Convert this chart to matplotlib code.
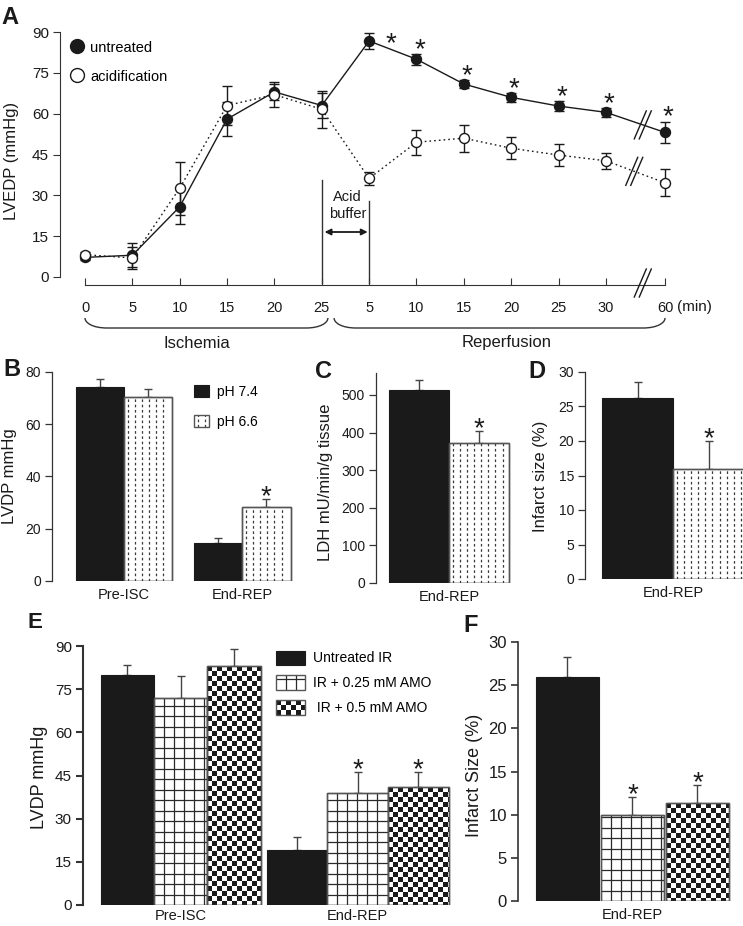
import numpy as np
import matplotlib
matplotlib.use('Agg')
import matplotlib.pyplot as plt
from matplotlib.patches import Rectangle, PathPatch
from matplotlib.lines import Line2D
from matplotlib.path import Path
from matplotlib.legend_handler import HandlerBase
from matplotlib.collections import LineCollection, PatchCollection
from matplotlib.transforms import IdentityTransform

plt.rcParams['font.family'] = ['Liberation Sans', 'DejaVu Sans']
plt.rcParams['lines.scale_dashes'] = False

# ---------------- data ----------------
time_labels = ['0', '5', '10', '15', '20', '25', '5', '10', '15', '20', '25', '30', '60']
time_pos = [0, 1, 2, 3, 4, 5, 6, 7, 8, 9, 10, 11, 12.25]
untreated_mean = [7.2, 8.0, 25.8, 58.0, 68.0, 63.0, 86.7, 80.0, 70.9, 66.0, 62.8, 60.5, 53.1]
untreated_err = [1.0, 4.5, 6.4, 6.2, 3.0, 4.6, 3.0, 2.0, 1.5, 1.6, 1.8, 1.6, 4.0]
acid_mean = [8.2, 7.0, 32.6, 63.0, 67.0, 61.6, 36.2, 49.5, 51.0, 47.3, 44.8, 42.7, 34.6]
acid_err = [1.0, 4.0, 9.8, 7.0, 4.5, 6.8, 2.5, 4.5, 5.0, 4.0, 4.0, 3.0, 5.0]
sig_A = [False] * 6 + [True] * 7

B_groups = ['Pre-ISC', 'End-REP']
ph_series = ['pH 7.4', 'pH 6.6']
B_ph74 = [74.1, 14.7]
B_ph74_err = [3.1, 1.7]
B_ph66 = [70.6, 28.2]
B_ph66_err = [2.8, 3.3]
B_sig66 = [False, True]

C_groups = ['End-REP']
C_ph74 = [513.0]
C_ph74_err = [27.0]
C_ph66 = [372.0]
C_ph66_err = [33.0]
C_sig66 = [True]

D_groups = ['End-REP']
D_ph74 = [26.2]
D_ph74_err = [2.4]
D_ph66 = [16.0]
D_ph66_err = [4.0]
D_sig66 = [True]

E_groups = ['Pre-ISC', 'End-REP']
amo_series = ['Untreated IR', 'IR + 0.25 mM AMO', ' IR + 0.5 mM AMO']
E_untreated = [80.0, 19.1]
E_untreated_err = [3.5, 4.6]
E_amo025 = [72.1, 38.8]
E_amo025_err = [7.5, 7.5]
E_amo05 = [83.1, 41.1]
E_amo05_err = [5.8, 5.2]
E_sig025 = [False, True]
E_sig05 = [False, True]

F_group = ['End-REP']
F_values = [26.0, 10.0, 11.4]
F_err = [2.3, 2.0, 2.0]
F_sig = [False, True, True]

# ---------------- helpers ----------------
W, H, DPI = 743, 926, 100
DARK = '#1a1a1a'
GREY = '#555555'
STAR_SIZE = 20
fig = plt.figure(figsize=(W / DPI, H / DPI), dpi=DPI)


def rect(l, t, r, b):
    return [l / W, 1 - b / H, (r - l) / W, (b - t) / H]


def pattern_artists(style, x0, y0, w, h, k, trans, z):
    arts = []
    if style == 'dash':
        sp = 7.1 * k
        xs = np.arange(x0 + 0.55 * sp, x0 + w - 0.3 * sp, sp)
        segs = [[(x, y0), (x, y0 + h)] for x in xs]
        arts.append(LineCollection(segs, colors='#3a3a3a', linewidths=0.9,
                                   linestyles=[(0, (1.9, 1.9))], transform=trans, zorder=z))
    elif style == 'grid':
        spx, spy = 10.0 * k, 10.5 * k
        xs = np.arange(x0 + spx, x0 + w - 0.2 * spx, spx)
        ys = np.arange(y0 + spy, y0 + h - 0.2 * spy, spy)
        segs = [[(x, y0), (x, y0 + h)] for x in xs] + [[(x0, y), (x0 + w, y)] for y in ys]
        arts.append(LineCollection(segs, colors='#2a2a2a', linewidths=0.9, transform=trans, zorder=z))
    elif style == 'checker':
        s = 5.0 * k
        nx = int(np.ceil(w / s))
        ny = int(np.ceil(h / s))
        ytop = y0 + h
        rects = []
        for j in range(ny):
            for i in range(nx):
                if (i + j) % 2 == 0:
                    rx = x0 + i * s
                    ry0 = max(ytop - (j + 1) * s, y0)
                    rw = min(s, x0 + w - rx)
                    rh = ytop - j * s - ry0
                    if rw > 0 and rh > 0:
                        rects.append(Rectangle((rx, ry0), rw, rh))
        arts.append(PatchCollection(rects, facecolor=DARK, edgecolor='none', transform=trans, zorder=z))
    return arts


def draw_bars(ax, x, vals, width, style):
    if style == 'solid':
        bars = ax.bar(x, vals, width=width, color=DARK, edgecolor=DARK, lw=0.8, zorder=2)
        return bars
    bars = ax.bar(x, vals, width=width, color='white', edgecolor=GREY, lw=1.0, zorder=2)
    for b in bars:
        (xa, ya), (xb, yb) = ax.transData.transform(
            [(b.get_x(), b.get_y()), (b.get_x() + b.get_width(), b.get_y() + b.get_height())])
        for a in pattern_artists(style, xa, ya, xb - xa, yb - ya, 1.0, IdentityTransform(), 2.5):
            a.set_clip_path(b)
            ax.add_collection(a, autolim=False)
        ax.add_patch(Rectangle(b.get_xy(), b.get_width(), b.get_height(), fill=False,
                               edgecolor=GREY, lw=1.0, zorder=3))
    return bars


def draw_err(ax, x, vals, errs, sig):
    ax.errorbar(x, vals, yerr=[np.zeros(len(vals)), errs], fmt='none', ecolor='#444444',
                elinewidth=1.0, capsize=3, capthick=1.0, zorder=1)
    for xi, v, e, s in zip(x, vals, errs, sig):
        if s:
            ax.annotate('*', xy=(xi, v + e), xytext=(0, -5), textcoords='offset pixels',
                        ha='center', va='baseline', fontsize=STAR_SIZE, color=DARK)


class PatternKey:
    def __init__(self, style):
        self.style = style


class PatternHandler(HandlerBase):
    def create_artists(self, legend, orig_handle, xdescent, ydescent, width, height, fontsize, trans):
        x0, y0 = -xdescent, -ydescent
        st = orig_handle.style
        if st == 'solid':
            return [Rectangle((x0, y0), width, height, facecolor=DARK, edgecolor=DARK, lw=0.8, transform=trans)]
        arts = [Rectangle((x0, y0), width, height, facecolor='white', edgecolor='none', transform=trans)]
        arts += pattern_artists(st, x0, y0, width, height, 0.72, trans, 3)
        arts.append(Rectangle((x0, y0), width, height, fill=False, edgecolor=GREY, lw=1.0, transform=trans))
        return arts


def place_ylabel(ax, text, px, py, size):
    ax.set_ylabel(text, fontsize=size, color=DARK)
    lab = ax.yaxis.label
    lab.set_ha('center')
    lab.set_va('center')
    pos = ax.get_position()
    ax.yaxis.set_label_coords((px / W - pos.x0) / pos.width, ((1 - py / H) - pos.y0) / pos.height)


def style_bar_axes(ax, ymax, yticks, spine_lw, labelsize, xpad):
    for s in ['top', 'right', 'bottom']:
        ax.spines[s].set_visible(False)
    ax.spines['left'].set_linewidth(spine_lw)
    ax.spines['left'].set_color('#333333')
    ax.spines['left'].set_bounds(0, ymax)
    ax.set_ylim(0, ymax)
    ax.set_yticks(yticks)
    ax.tick_params(axis='y', direction='out', length=5, width=spine_lw, color='#333333',
                   labelsize=labelsize, pad=3, labelcolor=DARK)
    ax.tick_params(axis='x', length=0, labelsize=10.5, pad=xpad, labelcolor=DARK)


def panel_letter(txt, px, py, size=17):
    fig.text(px / W, 1 - py / H, txt, fontsize=size, fontweight='bold', ha='center', va='center', color=DARK)


# ================= Panel A =================
axA = fig.add_axes(rect(60, 32, 700, 277))
unitA = 47.35
axA.set_xlim(-25 / unitA, -25 / unitA + 640 / unitA)
axA.set_ylim(0, 90)
for s in ['top', 'right']:
    axA.spines[s].set_visible(False)
axA.spines['left'].set_bounds(0, 90)
axA.spines['left'].set_color('#333333')
axA.spines['bottom'].set_position(('outward', 6))
axA.spines['bottom'].set_bounds(time_pos[0], time_pos[-1])
axA.spines['bottom'].set_color('#333333')
axA.set_yticks(np.arange(0, 91, 15))
axA.set_xticks(time_pos)
axA.set_xticklabels(time_labels)
axA.tick_params(axis='y', direction='out', length=5, labelsize=11, pad=3, color='#333333', labelcolor=DARK)
axA.tick_params(axis='x', direction='in', length=5, labelsize=10.5, pad=11, color='#333333', labelcolor=DARK)

axA.plot(time_pos, untreated_mean, '-', color=DARK, lw=1.0, zorder=2, clip_on=False)
axA.plot(time_pos, acid_mean, ls=(0, (1.2, 2.2)), color=DARK, lw=1.0, zorder=2, clip_on=False)
eb1 = axA.errorbar(time_pos, untreated_mean, yerr=untreated_err, fmt='o', color=DARK, mfc=DARK, mec=DARK,
                   ms=7.2, elinewidth=1.0, capsize=3.5, capthick=1.0, zorder=3)
eb2 = axA.errorbar(time_pos, acid_mean, yerr=acid_err, fmt='o', color=DARK, mfc='white', mec=DARK,
                   mew=1.0, ms=7.2, elinewidth=1.0, capsize=3.5, capthick=1.0, zorder=4)
for eb in (eb1, eb2):
    for ch in eb.get_children():
        ch.set_clip_on(False)

# stars
star_off = [(3, -3)] * 13
star_off[6] = (22, -18)
for x, m, e, s, off in zip(time_pos, untreated_mean, untreated_err, sig_A, star_off):
    if s:
        axA.annotate('*', xy=(x, m + e), xytext=off, textcoords='offset pixels', ha='center',
                     va='baseline', fontsize=STAR_SIZE, color=DARK, annotation_clip=False)

toD = axA.transData
toDinv = axA.transData.inverted()
y0_disp = toD.transform((0, 0))[1]
y_axisline = toDinv.transform((0, y0_disp - 6))[1]


def px_to_data_y(py):
    return toDinv.transform((0, H - py))[1]


# acid buffer markers
axA.plot([5, 5], [y_axisline, px_to_data_y(180)], color='#333333', lw=1.0, clip_on=False)
axA.plot([6, 6], [y_axisline, px_to_data_y(201)], color='#333333', lw=1.0, clip_on=False)
axA.annotate('', xy=(5.97, px_to_data_y(232)), xytext=(5.06, px_to_data_y(232)),
             arrowprops=dict(arrowstyle='<|-|>', color=DARK, lw=1.3, mutation_scale=9, shrinkA=0, shrinkB=0),
             annotation_clip=False)
fig.text(347.5 / W, 1 - 205.5 / H, 'Acid\nbuffer', fontsize=10.5, ha='center', va='center',
         linespacing=1.35, color=DARK)


def slash_pair(ax, xd, yd, hh=14, hw=6, gap=5):
    cx, cy = ax.transData.transform((xd, yd))
    inv = ax.transData.inverted()
    for dx in (-gap / 2, gap / 2):
        p = inv.transform([(cx + dx - hw, cy - hh), (cx + dx + hw, cy + hh)])
        ax.plot(p[:, 0], p[:, 1], color=DARK, lw=1.0, clip_on=False, zorder=5)


def interp_y(xq, xs, ys):
    return float(np.interp(xq, xs, ys))


slash_pair(axA, 11.78, y_axisline)
slash_pair(axA, 11.78, interp_y(11.78, time_pos, untreated_mean))
slash_pair(axA, 11.6, interp_y(11.6, time_pos, acid_mean))


def brace(ax, x0, x1, top_px, bot_px):
    a0 = ax.transData.transform((x0, 0))[0]
    a1 = ax.transData.transform((x1, 0))[0]
    yt = H - top_px
    yb = H - bot_px
    verts = [(a0, yt), (a0, yt - 5), (a0 + 8, yb), (a0 + 22, yb), (a1 - 22, yb),
             (a1 - 8, yb), (a1, yt - 5), (a1, yt)]
    codes = [Path.MOVETO, Path.CURVE4, Path.CURVE4, Path.CURVE4, Path.LINETO,
             Path.CURVE4, Path.CURVE4, Path.CURVE4]
    vd = ax.transData.inverted().transform(verts)
    ax.add_patch(PathPatch(Path(vd, codes), fill=False, edgecolor='#333333', lw=1.0, clip_on=False))


brace(axA, 0, 5.13, 318, 328)
brace(axA, 5.26, 12.25, 318, 328)
fig.text(197 / W, 1 - 343 / H, 'Ischemia', fontsize=12, ha='center', va='center', color=DARK)
fig.text(507 / W, 1 - 343 / H, 'Reperfusion', fontsize=12, ha='center', va='center', color=DARK)
fig.text(694 / W, 1 - 307 / H, '(min)', fontsize=11, ha='center', va='center', color=DARK)

legA = axA.legend(handles=[Line2D([], [], ls='none', marker='o', ms=10, mfc=DARK, mec=DARK),
                           Line2D([], [], ls='none', marker='o', ms=10, mfc='white', mec=DARK, mew=1.0)],
                  labels=['untreated', 'acidification'], loc='upper left',
                  bbox_to_anchor=(69.7 / W, 1 - 40.5 / H), bbox_transform=fig.transFigure,
                  frameon=False, fontsize=10.5, handlelength=1.0, handletextpad=0.4,
                  labelspacing=1.03, borderpad=0, borderaxespad=0, numpoints=1)
place_ylabel(axA, 'LVEDP (mmHg)', 12, 161, 12)
panel_letter('A', 10, 17)

# ================= Panel B =================
axB = fig.add_axes(rect(52, 372, 300, 581))
axB.set_xlim(-0.61, 1.49)
style_bar_axes(axB, 80, [0, 20, 40, 60, 80], 0.9, 10, 5)
xB = np.arange(len(B_groups))
wB = 0.41
draw_err(axB, xB - wB / 2, B_ph74, B_ph74_err, [False] * len(xB))
draw_err(axB, xB + wB / 2, B_ph66, B_ph66_err, B_sig66)
draw_bars(axB, xB - wB / 2, B_ph74, wB, 'solid')
draw_bars(axB, xB + wB / 2, B_ph66, wB, 'dash')
axB.set_xticks(xB)
axB.set_xticklabels(B_groups)
axB.legend(handles=[PatternKey('solid'), PatternKey('dash')], labels=ph_series,
           handler_map={PatternKey: PatternHandler()}, loc='upper left',
           bbox_to_anchor=(194 / W, 1 - 385 / H), bbox_transform=fig.transFigure,
           frameon=False, fontsize=10, handlelength=1.08, handleheight=0.94,
           handletextpad=0.58, labelspacing=1.15, borderpad=0, borderaxespad=0)
place_ylabel(axB, 'LVDP mmHg', 10, 476, 12)
panel_letter('B', 12, 369)

# ================= Panel C =================
axC = fig.add_axes(rect(376, 373, 515, 583))
axC.set_xlim(-0.608, 0.55)
style_bar_axes(axC, 558.5, [0, 100, 200, 300, 400, 500], 0.9, 10, 5)
xC = np.arange(len(C_groups))
draw_err(axC, xC - 0.25, C_ph74, C_ph74_err, [False])
draw_err(axC, xC + 0.25, C_ph66, C_ph66_err, C_sig66)
draw_bars(axC, xC - 0.25, C_ph74, 0.5, 'solid')
draw_bars(axC, xC + 0.25, C_ph66, 0.5, 'dash')
axC.set_xticks(xC)
axC.set_xticklabels(C_groups)
place_ylabel(axC, 'LDH mU/min/g tissue', 325, 482, 12)
panel_letter('C', 323, 371)

# ================= Panel D =================
axD = fig.add_axes(rect(585, 372, 743, 579))
axD.set_xlim(-0.62, 0.493)
style_bar_axes(axD, 30, [0, 5, 10, 15, 20, 25, 30], 0.9, 10, 5)
xD = np.arange(len(D_groups))
draw_err(axD, xD - 0.25, D_ph74, D_ph74_err, [False])
draw_err(axD, xD + 0.25, D_ph66, D_ph66_err, D_sig66)
draw_bars(axD, xD - 0.25, D_ph74, 0.5, 'solid')
draw_bars(axD, xD + 0.25, D_ph66, 0.5, 'dash')
axD.set_xticks(xD)
axD.set_xticklabels(D_groups)
place_ylabel(axD, 'Infarct size (%)', 541, 476, 12)
panel_letter('D', 537, 371)

# ================= Panel E =================
axE = fig.add_axes(rect(83, 646, 455, 905))
axE.set_xlim(-0.552, 1.55)
style_bar_axes(axE, 90, np.arange(0, 91, 15), 1.5, 11, 3)
xE = np.arange(len(E_groups))
wE = np.array([0.302, 0.343])
E_vals = [E_untreated, E_amo025, E_amo05]
E_errs = [E_untreated_err, E_amo025_err, E_amo05_err]
E_sigs = [[False, False], E_sig025, E_sig05]
E_styles = ['solid', 'grid', 'checker']
for j in range(3):
    xj = xE + (j - 1) * wE
    draw_err(axE, xj, E_vals[j], E_errs[j], E_sigs[j])
    draw_bars(axE, xj, E_vals[j], wE, E_styles[j])
axE.set_xticks(xE)
axE.set_xticklabels(E_groups)
axE.legend(handles=[PatternKey(s) for s in E_styles], labels=amo_series,
           handler_map={PatternKey: PatternHandler()}, loc='upper left',
           bbox_to_anchor=(276 / W, 1 - 650.5 / H), bbox_transform=fig.transFigure,
           frameon=False, fontsize=10, handlelength=2.09, handleheight=1.22,
           handletextpad=0.58, labelspacing=0.72, borderpad=0, borderaxespad=0)
place_ylabel(axE, 'LVDP mmHg', 40, 777, 13)
panel_letter('E', 35, 622, 16)

# ================= Panel F =================
axF = fig.add_axes(rect(518, 642, 740, 901))
axF.set_xlim(-1.76, 1.655)
style_bar_axes(axF, 30, [0, 5, 10, 15, 20, 25, 30], 1.2, 12, 5)
xF = np.arange(len(F_values)) - 1
for j in range(3):
    draw_err(axF, [xF[j]], [F_values[j]], [F_err[j]], [F_sig[j]])
    draw_bars(axF, [xF[j]], [F_values[j]], 0.97, E_styles[j])
axF.set_xticks([0])
axF.set_xticklabels(F_group)
place_ylabel(axF, 'Infarct Size (%)', 475, 775, 13)
panel_letter('F', 471, 626)

fig.savefig('out.png', dpi=DPI)
